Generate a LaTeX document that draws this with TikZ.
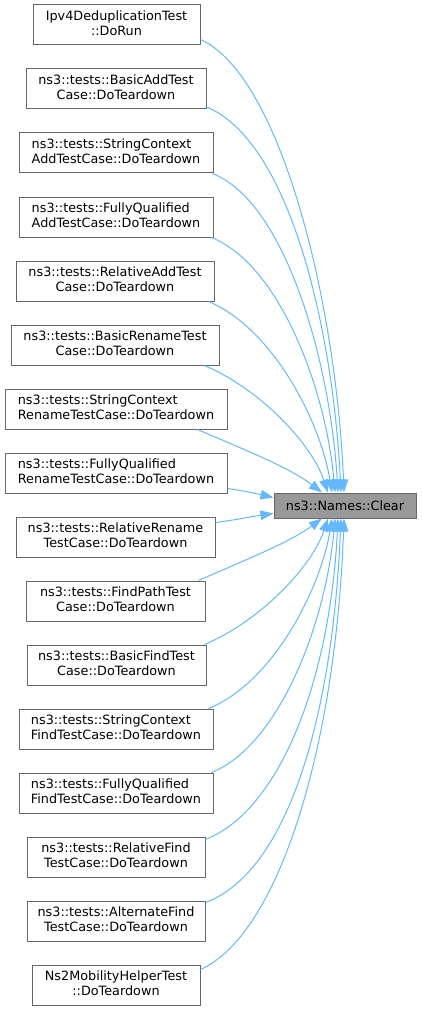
\documentclass[tikz,border=0pt]{standalone}
\usepackage{fontspec}
\setmainfont{DejaVu Sans}
\usetikzlibrary{arrows.meta}
\definecolor{edgeblue}{HTML}{63B8FF}
\definecolor{boxborder}{HTML}{666666}
\definecolor{clearfill}{HTML}{999999}
\newcommand\lbl[2]{\begin{tabular}{@{}l@{}}#1\\\multicolumn{1}{@{}c@{}}{#2}\end{tabular}}
\tikzset{
  box/.style={draw=boxborder, fill=white, line width=1pt, inner sep=0pt, minimum height=40pt, font=\fontsize{12.8}{14.5}\selectfont},
  target/.style={draw=boxborder, fill=clearfill, line width=1pt, inner sep=0pt, minimum height=25pt, minimum width=142pt, font=\fontsize{12.8}{14.5}\selectfont},
  edge/.style={draw=edgeblue, line width=1pt, -{Triangle[length=13pt,width=9.5pt,fill=edgeblue]}}
}
\begin{document}
\begin{tikzpicture}[x=1pt,y=-1pt]
\useasboundingbox (0,0) rectangle (421,1011);
\node[box, minimum width=167pt] (b1) at (116.5,25) {\lbl{Ipv4DeduplicationTest}{::DoRun}};
\node[box, minimum width=180pt] (b2) at (116,89) {\lbl{ns3::tests::BasicAddTest}{Case::DoTeardown}};
\node[box, minimum width=194pt] (b3) at (116,153) {\lbl{ns3::tests::StringContext}{AddTestCase::DoTeardown}};
\node[box, minimum width=194pt] (b4) at (116,217) {\lbl{ns3::tests::FullyQualified}{AddTestCase::DoTeardown}};
\node[box, minimum width=198pt] (b5) at (115,281) {\lbl{ns3::tests::RelativeAddTest}{Case::DoTeardown}};
\node[box, minimum width=208pt] (b6) at (115,345) {\lbl{ns3::tests::BasicRenameTest}{Case::DoTeardown}};
\node[box, minimum width=222pt] (b7) at (116,409) {\lbl{ns3::tests::StringContext}{RenameTestCase::DoTeardown}};
\node[box, minimum width=222pt] (b8) at (116,473) {\lbl{ns3::tests::FullyQualified}{RenameTestCase::DoTeardown}};
\node[box, minimum width=199pt] (b9) at (115.5,537) {\lbl{ns3::tests::RelativeRename}{TestCase::DoTeardown}};
\node[box, minimum width=179pt] (b10) at (115.5,601) {\lbl{ns3::tests::FindPathTest}{Case::DoTeardown}};
\node[box, minimum width=179pt] (b11) at (116.5,665) {\lbl{ns3::tests::BasicFindTest}{Case::DoTeardown}};
\node[box, minimum width=194pt] (b12) at (116,729) {\lbl{ns3::tests::StringContext}{FindTestCase::DoTeardown}};
\node[box, minimum width=194pt] (b13) at (116,793) {\lbl{ns3::tests::FullyQualified}{FindTestCase::DoTeardown}};
\node[box, minimum width=178pt] (b14) at (116,857) {\lbl{ns3::tests::RelativeFind}{TestCase::DoTeardown}};
\node[box, minimum width=178pt] (b15) at (116,921) {\lbl{ns3::tests::AlternateFind}{TestCase::DoTeardown}};
\node[box, minimum width=168pt] (b16) at (116,985) {\lbl{Ns2MobilityHelperTest}{::DoTeardown}};
\node[target] (clear) at (345,505.5) {ns3::Names::Clear};
% upper edges
\draw[edge] ([yshift=6pt]b1.south east) .. controls (280,75) and (336,300) .. ([xshift=-1pt]clear.north);
\draw[edge] ([shift={(-1pt,3pt)}]b2.south east) .. controls (290,140) and (333,330) .. ([xshift=-4pt]clear.north);
\draw[edge] ([xshift=-1pt]b3.south east) .. controls (285,202) and (330,360) .. ([xshift=-7pt]clear.north);
\draw[edge] ([xshift=-2pt]b4.south east) .. controls (280,265) and (326,390) .. ([xshift=-10pt]clear.north);
\draw[edge] ([xshift=-6pt]b5.south east) .. controls (272,328) and (320,420) .. ([xshift=-13pt]clear.north);
\draw[edge] ([xshift=-15pt]b6.south east) .. controls (262,390) and (312,445) .. ([xshift=-17pt]clear.north);
\draw[edge] ([xshift=-30pt]b7.south east) .. controls (250,452) and (290,468) .. ([xshift=-23pt]clear.north);
% side edges
\draw[edge] ([yshift=5pt]b8.south east) .. controls (245,491) and (258,494) .. ([yshift=8pt]clear.west);
\draw[edge] ([yshift=-6pt]b9.north east) .. controls (235,520) and (255,516) .. ([yshift=-8pt]clear.west);
% lower edges
\draw[edge] ([xshift=-7pt]b10.north east) .. controls (250,558) and (290,542) .. ([xshift=-23pt]clear.south);
\draw[edge] ([xshift=-2pt]b11.north east) .. controls (262,620) and (312,566) .. ([xshift=-17pt]clear.south);
\draw[edge] ([xshift=-5pt]b12.north east) .. controls (272,683) and (320,591) .. ([xshift=-13pt]clear.south);
\draw[edge] ([xshift=-2pt]b13.north east) .. controls (280,745) and (326,621) .. ([xshift=-10pt]clear.south);
\draw[edge] ([yshift=-3pt]b14.north east) .. controls (280,810) and (330,680) .. ([xshift=-7pt]clear.south);
\draw[edge] ([yshift=-2pt]b15.north east) .. controls (290,871) and (333,710) .. ([xshift=-4pt]clear.south);
\draw[edge] ([yshift=-5pt]b16.north east) .. controls (280,934) and (336,743) .. ([xshift=-1pt]clear.south);
\end{tikzpicture}
\end{document}
